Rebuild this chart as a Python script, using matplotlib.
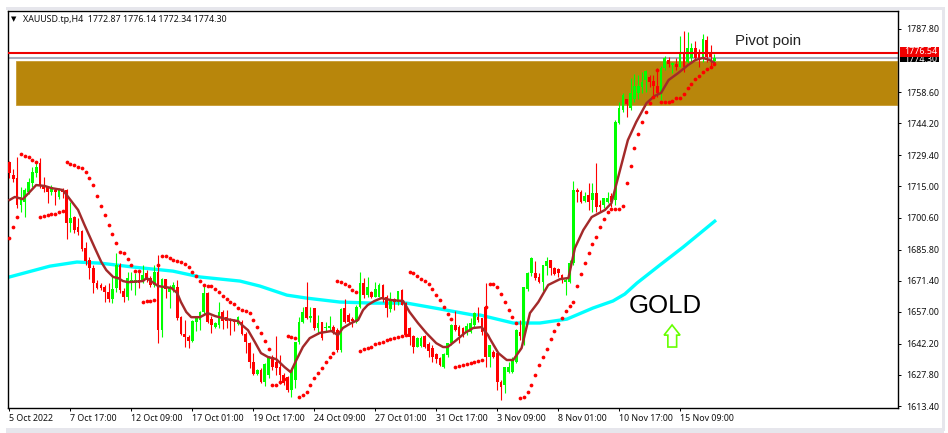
import numpy as np
import matplotlib
matplotlib.use('Agg')
import matplotlib.pyplot as plt
from matplotlib.patches import Rectangle, Polygon

# XAUUSD H4 candles
opens = [
    1726.3, 1720.2, 1718.9, 1706.4, 1707.8, 1712.4, 1716.5, 1721.2, 1725.8, 1715.6,
    1714.7, 1712.4, 1713.3, 1710.1, 1713.3, 1713.3, 1698.0, 1700.8, 1696.2, 1694.3,
    1686.5, 1680.9, 1677.2, 1670.3, 1669.4, 1668.4, 1666.1, 1662.9, 1668.0, 1678.6,
    1666.6, 1663.8, 1670.7, 1670.3, 1671.7, 1670.7, 1674.9, 1672.6, 1669.4, 1675.4,
    1648.5, 1672.1, 1666.1, 1667.5, 1668.4, 1654.5, 1646.7, 1645.3, 1643.5, 1652.2,
    1653.2, 1656.9, 1665.7, 1653.6, 1649.9, 1650.9, 1656.9, 1654.5, 1653.6, 1653.2,
    1651.3, 1652.2, 1646.7, 1642.5, 1633.7, 1628.2, 1630.0, 1624.5, 1627.7, 1636.1,
    1633.7, 1631.4, 1627.7, 1626.8, 1620.8, 1625.4, 1643.0, 1652.2, 1659.2, 1654.1,
    1658.7, 1649.5, 1652.2, 1649.5, 1649.5, 1649.9, 1648.5, 1639.3, 1658.7, 1655.5,
    1653.6, 1652.2, 1659.2, 1670.3, 1664.7, 1666.1, 1663.8, 1663.8, 1669.4, 1663.8,
    1658.3, 1662.9, 1661.5, 1667.1, 1661.0, 1649.5, 1645.8, 1640.7, 1641.1, 1645.8,
    1642.1, 1640.2, 1637.4, 1635.6, 1631.4, 1637.0, 1642.5, 1650.9, 1649.9, 1649.5,
    1647.2, 1647.6, 1650.9, 1654.5, 1654.1, 1659.2, 1636.1, 1638.4, 1637.9, 1624.5,
    1623.1, 1629.1, 1629.1, 1633.7, 1647.6, 1642.5, 1667.5, 1674.9, 1674.9, 1673.1,
    1670.7, 1678.1, 1680.9, 1677.2, 1676.8, 1674.0, 1670.7, 1670.7, 1679.5, 1713.3,
    1712.4, 1708.2, 1711.0, 1708.7, 1711.9, 1706.4, 1706.4, 1707.8, 1710.5, 1708.7,
    1744.3, 1750.3, 1755.4, 1751.2, 1755.4, 1758.2, 1761.0, 1764.2, 1765.6, 1763.7,
    1761.4, 1758.2, 1769.7, 1773.4, 1771.1, 1771.6, 1770.2, 1777.1, 1772.5, 1774.4,
    1779.0, 1776.7, 1774.4, 1782.7, 1776.7, 1772.87,
]
highs = [
    1726.7, 1723.0, 1728.6, 1714.7, 1714.2, 1718.9, 1723.9, 1725.8, 1728.1, 1719.3,
    1715.2, 1715.6, 1714.2, 1714.2, 1714.2, 1713.8, 1707.8, 1701.3, 1700.4, 1694.8,
    1689.3, 1682.3, 1678.6, 1671.7, 1670.3, 1669.4, 1670.3, 1673.1, 1684.2, 1679.5,
    1668.0, 1675.4, 1675.4, 1674.9, 1676.3, 1678.6, 1676.3, 1673.5, 1678.6, 1683.2,
    1672.6, 1672.1, 1669.4, 1670.7, 1671.7, 1655.0, 1653.2, 1646.2, 1653.2, 1654.5,
    1657.3, 1668.9, 1666.1, 1655.0, 1652.2, 1661.5, 1657.8, 1657.8, 1654.1, 1653.6,
    1655.0, 1653.2, 1647.6, 1643.0, 1637.9, 1630.5, 1631.0, 1633.3, 1636.5, 1637.0,
    1645.8, 1637.0, 1628.6, 1627.2, 1631.0, 1643.0, 1654.5, 1659.2, 1670.7, 1659.2,
    1658.7, 1655.5, 1652.2, 1652.2, 1655.0, 1650.9, 1649.5, 1658.7, 1662.9, 1656.4,
    1654.5, 1660.1, 1675.4, 1672.6, 1673.1, 1666.6, 1670.7, 1670.3, 1669.8, 1664.7,
    1666.1, 1663.3, 1666.6, 1667.5, 1661.5, 1649.9, 1646.2, 1645.3, 1645.8, 1646.2,
    1643.0, 1641.6, 1637.9, 1636.1, 1637.9, 1642.5, 1651.3, 1657.3, 1650.9, 1649.9,
    1651.8, 1654.1, 1656.9, 1659.2, 1654.1, 1670.3, 1641.6, 1639.3, 1637.9, 1625.4,
    1631.4, 1633.7, 1636.1, 1649.0, 1653.2, 1668.4, 1675.4, 1682.3, 1680.5, 1674.9,
    1678.6, 1682.3, 1680.9, 1677.7, 1677.2, 1674.4, 1672.6, 1680.9, 1717.5, 1714.2,
    1713.3, 1712.4, 1716.5, 1716.5, 1725.8, 1708.7, 1709.6, 1712.4, 1711.9, 1745.7,
    1754.0, 1758.2, 1755.4, 1765.1, 1767.0, 1766.5, 1767.9, 1768.8, 1766.5, 1766.5,
    1769.7, 1770.7, 1775.3, 1774.8, 1772.5, 1774.4, 1784.5, 1786.9, 1786.4, 1781.3,
    1782.2, 1778.5, 1785.5, 1784.5, 1780.4, 1776.14,
]
lows = [
    1718.9, 1717.0, 1705.0, 1703.1, 1700.8, 1711.5, 1714.7, 1719.3, 1714.2, 1712.4,
    1707.3, 1711.0, 1706.4, 1709.1, 1709.6, 1690.6, 1693.9, 1693.4, 1692.5, 1685.1,
    1678.6, 1672.1, 1665.7, 1667.5, 1667.1, 1661.5, 1661.5, 1661.0, 1666.1, 1665.7,
    1661.5, 1662.4, 1667.1, 1664.7, 1668.0, 1670.3, 1670.7, 1668.4, 1668.4, 1642.5,
    1645.3, 1663.3, 1658.7, 1666.1, 1653.2, 1646.2, 1640.7, 1640.2, 1643.0, 1648.1,
    1648.5, 1655.5, 1651.8, 1647.2, 1649.5, 1649.5, 1649.0, 1649.5, 1646.2, 1648.1,
    1650.9, 1646.2, 1637.9, 1631.0, 1627.7, 1627.7, 1624.0, 1622.6, 1626.3, 1630.0,
    1627.7, 1623.6, 1623.1, 1619.9, 1617.6, 1621.7, 1642.1, 1651.8, 1653.6, 1652.2,
    1648.5, 1646.7, 1643.9, 1647.6, 1648.5, 1646.7, 1638.4, 1638.4, 1651.8, 1651.8,
    1649.9, 1651.8, 1658.7, 1663.3, 1663.8, 1663.3, 1663.8, 1663.8, 1661.5, 1654.5,
    1656.9, 1657.8, 1660.1, 1660.1, 1645.8, 1641.6, 1637.9, 1640.7, 1640.7, 1640.2,
    1636.1, 1633.7, 1633.3, 1631.9, 1631.0, 1636.1, 1641.6, 1648.1, 1642.5, 1645.3,
    1646.2, 1647.2, 1649.9, 1652.2, 1646.2, 1631.4, 1631.4, 1635.6, 1620.8, 1616.2,
    1619.4, 1628.6, 1628.6, 1633.3, 1643.9, 1641.6, 1666.6, 1673.5, 1671.7, 1670.3,
    1666.6, 1674.0, 1674.0, 1674.0, 1673.1, 1670.3, 1664.7, 1670.3, 1678.6, 1707.8,
    1707.3, 1707.8, 1704.1, 1703.1, 1703.1, 1703.1, 1705.0, 1707.3, 1705.4, 1706.4,
    1743.8, 1749.4, 1747.1, 1750.3, 1754.0, 1755.4, 1758.2, 1758.6, 1761.0, 1757.2,
    1756.3, 1754.9, 1768.8, 1770.2, 1767.4, 1768.8, 1770.2, 1767.9, 1772.1, 1772.1,
    1773.4, 1770.2, 1772.5, 1772.5, 1769.7, 1772.34,
]
closes = [
    1721.2, 1718.4, 1706.4, 1710.1, 1713.3, 1717.0, 1721.6, 1723.9, 1715.6, 1713.8,
    1712.4, 1714.7, 1712.4, 1713.8, 1712.4, 1698.0, 1700.4, 1694.8, 1693.9, 1686.0,
    1680.5, 1677.2, 1670.3, 1668.0, 1668.0, 1666.1, 1662.9, 1667.5, 1678.6, 1667.1,
    1663.8, 1672.6, 1671.7, 1671.7, 1670.3, 1674.0, 1671.7, 1669.4, 1675.4, 1648.5,
    1672.1, 1667.5, 1668.4, 1669.4, 1654.1, 1646.7, 1645.3, 1643.5, 1652.7, 1654.1,
    1656.9, 1665.7, 1652.2, 1650.9, 1651.8, 1656.9, 1652.7, 1652.7, 1652.7, 1652.2,
    1654.5, 1646.7, 1643.0, 1633.7, 1628.2, 1630.0, 1624.5, 1632.8, 1636.1, 1631.4,
    1631.0, 1627.7, 1624.0, 1620.8, 1630.0, 1643.0, 1652.2, 1656.9, 1654.1, 1655.0,
    1649.5, 1651.8, 1644.8, 1649.9, 1650.4, 1647.6, 1639.3, 1658.3, 1652.2, 1652.2,
    1652.7, 1659.2, 1670.3, 1664.7, 1668.4, 1663.8, 1667.5, 1669.4, 1663.3, 1658.7,
    1662.4, 1661.5, 1666.6, 1660.1, 1646.2, 1645.3, 1640.7, 1644.8, 1644.8, 1640.7,
    1638.8, 1636.1, 1635.1, 1632.3, 1637.4, 1642.5, 1650.9, 1648.5, 1645.8, 1645.8,
    1650.4, 1651.8, 1656.4, 1653.2, 1647.6, 1636.1, 1641.6, 1636.1, 1624.5, 1622.2,
    1631.4, 1631.4, 1634.7, 1648.5, 1645.8, 1668.4, 1674.9, 1681.8, 1672.6, 1670.7,
    1678.6, 1680.5, 1677.2, 1674.4, 1674.9, 1672.6, 1671.7, 1679.5, 1713.3, 1712.4,
    1707.8, 1710.5, 1707.8, 1711.9, 1705.4, 1705.4, 1709.6, 1709.6, 1707.8, 1744.8,
    1751.2, 1757.2, 1753.1, 1758.2, 1761.4, 1761.4, 1763.3, 1768.4, 1763.3, 1761.4,
    1758.2, 1769.7, 1774.4, 1771.6, 1772.1, 1770.2, 1777.1, 1770.2, 1779.0, 1779.0,
    1774.4, 1774.4, 1783.2, 1774.8, 1774.8, 1774.30,
]

# parabolic SAR, one dot per bar
sar = [
    1691.1, 1696.2, 1700.8, 1729.9, 1729.0, 1728.6, 1727.2, 1726.3, 1700.8, 1701.3,
    1701.7, 1702.2, 1702.4, 1703.1, 1703.6, 1726.3, 1725.3, 1724.9, 1723.9, 1723.5,
    1721.6, 1718.9, 1715.6, 1710.5, 1705.9, 1701.7, 1697.1, 1692.9, 1688.8, 1684.6,
    1684.2, 1681.4, 1678.6, 1675.8, 1675.8, 1661.5, 1662.0, 1662.2, 1662.4, 1678.6,
    1682.8, 1682.8, 1681.8, 1680.9, 1680.5, 1680.0, 1679.1, 1677.7, 1675.4, 1673.5,
    1671.2, 1669.4, 1668.9, 1668.9, 1667.5, 1666.1, 1664.3, 1662.9, 1661.5, 1660.6,
    1658.7, 1657.8, 1657.3, 1656.4, 1653.2, 1649.9, 1647.2, 1643.5, 1639.8, 1623.1,
    1623.1, 1624.5, 1625.9, 1645.8, 1645.5, 1644.8, 1617.6, 1618.5, 1619.9, 1623.1,
    1626.3, 1628.6, 1631.0, 1633.7, 1636.1, 1637.9, 1671.2, 1670.7, 1669.8, 1668.9,
    1667.1, 1666.1, 1638.8, 1639.8, 1640.2, 1640.7, 1642.1, 1642.5, 1643.0, 1643.9,
    1644.4, 1644.8, 1645.3, 1645.8, 1646.2, 1675.4, 1674.9, 1673.5, 1672.1, 1671.2,
    1669.8, 1667.5, 1664.7, 1662.4, 1659.2, 1655.9, 1653.6, 1631.4, 1631.9, 1632.3,
    1632.8, 1633.3, 1633.7, 1634.2, 1634.7, 1659.2, 1669.8, 1669.8, 1668.4, 1665.2,
    1661.5, 1657.8, 1654.5, 1651.8, 1617.1, 1617.6, 1619.9, 1623.1, 1627.7, 1632.3,
    1636.1, 1639.8, 1644.4, 1648.1, 1651.3, 1654.1, 1657.3, 1659.6, 1661.5, 1668.9,
    1674.4, 1679.5, 1684.2, 1688.3, 1691.6, 1696.2, 1699.9, 1703.1, 1704.5, 1704.5,
    1704.5, 1705.9, 1716.5, 1724.4, 1732.7, 1739.2, 1744.8, 1749.4, 1753.6, 1756.3,
    1768.8, 1754.0, 1754.0, 1754.0, 1754.5, 1755.9, 1755.9, 1757.7, 1760.5, 1762.3,
    1764.7, 1766.0, 1767.9, 1769.3, 1770.2, 1771.6,
]

# fast moving average (brown)
ma_bars = [
    0, 1.4, 3.5, 5.3, 7, 9.2, 11, 14, 15.4, 18, 19.7, 22.4, 24.1, 25.4, 27.2, 28.5, 29.8, 31.1,
    35, 36, 39, 42.5, 44, 45, 46.4, 47.7, 50, 52, 54, 57, 60, 61, 62.6, 64.4, 66, 67.8, 70,
    72.2, 73.8, 75.3, 77, 78.8, 81.4, 84.5, 86.2, 87.5, 89.7, 91.5, 92.8, 94, 95.8, 97.6,
    100.2, 103.3, 105, 107.2, 109.4, 112, 113.8, 115, 117.3, 119.5, 121.7, 123.9, 125.6, 126,
    128.3, 130.5, 132.2, 134.4, 136.6, 138.8, 141.4, 144.5, 146.7, 148.4, 150.6, 152.8, 156.3,
    158, 159.7, 162.3, 164.5, 167.2, 169.3, 171, 173, 175.5, 178.1, 180, 182, 183.8, 185,
]
ma_vals = [
    1708.7, 1710.1, 1709.1, 1712.4, 1715.6, 1715.2, 1714.2, 1713.3, 1710.1, 1704.1, 1697.1,
    1686.5, 1680.0, 1676.3, 1673.1, 1672.6, 1671.2, 1670.7, 1671.2, 1672.6, 1668.9, 1668.0,
    1665.7, 1661.5, 1656.9, 1654.5, 1654.5, 1656.4, 1655.0, 1653.6, 1652.7, 1650.9, 1648.5,
    1643.0, 1637.9, 1636.1, 1635.1, 1631.4, 1629.1, 1634.7, 1640.7, 1644.8, 1647.2, 1648.1,
    1646.2, 1649.5, 1651.8, 1653.2, 1657.8, 1660.1, 1662.0, 1663.3, 1662.4, 1662.0, 1656.9,
    1651.8, 1647.2, 1642.5, 1640.7, 1640.7, 1643.9, 1647.2, 1649.5, 1649.9, 1646.2, 1644.8,
    1637.9, 1634.7, 1634.7, 1640.2, 1656.4, 1661.5, 1669.4, 1672.1, 1672.6, 1686.5, 1694.8,
    1700.8, 1704.1, 1707.3, 1718.9, 1736.4, 1744.8, 1753.5, 1756.8, 1758.2, 1764.2, 1767.4,
    1771.1, 1773.4, 1774.4, 1773.4, 1772.1,
]

# slow moving average (cyan)
slow_bars = [0, 10.6, 17.7, 23.8, 32.4, 42.9, 50, 60.5, 65.7, 72.8, 78.1, 86.7, 95.4, 104.3,
             113, 121.7, 123.5, 132.2, 139.2, 146.3, 153.1, 158.4, 161.5, 164.7, 170.7, 176.8, 185.1]
slow_vals = [1673.1, 1678.1, 1680.0, 1679.5, 1677.7, 1675.8, 1673.1, 1671.2, 1668.9, 1664.7,
             1663.3, 1661.5, 1661.0, 1661.0, 1658.3, 1655.5, 1655.5, 1651.8, 1651.8, 1653.6,
             1658.7, 1662.0, 1665.2, 1670.3, 1678.6, 1686.9, 1698.9]

price_ticks = [1787.80, 1758.60, 1744.20, 1729.40, 1715.00, 1700.60, 1685.80,
               1671.40, 1657.00, 1642.20, 1627.80, 1613.40]
date_bars = [0, 16, 32, 48, 64, 80, 96, 112, 128, 144, 160, 176]
date_labels = ['5 Oct 2022', '7 Oct 17:00', '12 Oct 09:00', '17 Oct 01:00', '19 Oct 17:00',
               '24 Oct 09:00', '27 Oct 01:00', '31 Oct 17:00', '3 Nov 09:00', '8 Nov 01:00',
               '10 Nov 17:00', '15 Nov 09:00']
pivot_price = 1776.54
last_price = 1774.30
zone_low, zone_high = 1752.6, 1773.0

W, H = 948, 433
FONT = 'Noto Sans'
LABEL_SIZE = 6.4


def fx(x):
    return x / W


def fy(y):
    return 1 - y / H


def main():
    o = np.array(opens)
    h = np.array(highs)
    l = np.array(lows)
    c = np.array(closes)
    bars = np.arange(len(o))

    fig = plt.figure(figsize=(W / 100, H / 100), dpi=100, facecolor='white')

    # light window edges around the chart
    for rect in [(6, 7, 938, 2.5), (942, 7, 2.5, 424), (6, 428, 938, 5)]:
        fig.add_artist(Rectangle((fx(rect[0]), fy(rect[1] + rect[3])), fx(rect[2]), rect[3] / H,
                                 transform=fig.transFigure, fc='#e6e6ec', ec='none'))

    ax = fig.add_axes([fx(8.0), fy(408), fx(890), 397 / H])
    ax.set_xlim(-0.39, 233.2)
    ax.set_ylim(1612.5, 1796.1)

    ax.add_patch(Rectangle((1.7, zone_low), 231.2, zone_high - zone_low,
                           fc='#b8860b', ec='#c79a30', lw=0.6, zorder=1))
    ax.axhline(last_price, color='#a9adbd', lw=1.5, zorder=1.5)
    ax.axhline(pivot_price, color='#ee0000', lw=1.5, zorder=5)

    ax.plot(slow_bars, slow_vals, color='#00ffff', lw=2.4, zorder=2)

    up = c >= o
    for mask, col in [(up, '#00ff00'), (~up, '#ff0000')]:
        ax.vlines(bars[mask], l[mask], h[mask], color=col, lw=0.8, zorder=3)
        ax.bar(bars[mask], np.abs(c - o)[mask], bottom=np.minimum(o, c)[mask],
               width=0.72, color=col, lw=0, zorder=3)

    ax.plot(ma_bars, ma_vals, color='#a32a2a', lw=1.75, zorder=4)
    ax.plot(bars, sar, ls='none', marker='o', ms=2.7, mfc='#ff0000', mec='#ff0000',
            mew=0, zorder=6)

    # green arrow under the GOLD label
    arrow_x = [173.9, 176.0, 175.1, 175.1, 172.8, 172.8, 171.8]
    arrow_y = [1650.9, 1646.2, 1646.2, 1640.7, 1640.7, 1646.2, 1646.2]
    ax.add_patch(Polygon(np.column_stack([arrow_x, arrow_y]), closed=True, fc='white',
                         ec='#66ff00', lw=1.2, zorder=6))

    ax.yaxis.tick_right()
    ax.set_yticks(price_ticks)
    ax.set_yticklabels(['%.2f' % p for p in price_ticks], fontsize=LABEL_SIZE, family=FONT, color='#111111')
    ax.set_xticks(date_bars)
    ax.set_xticklabels(date_labels, fontsize=LABEL_SIZE, family=FONT, color='#111111', ha='left')
    ax.tick_params(axis='y', length=2.5, width=0.7, pad=3.5)
    ax.tick_params(axis='x', length=2, width=0.7, pad=2)
    for s in ax.spines.values():
        s.set_linewidth(1.0)
        s.set_color('black')

    # price boxes in the right margin
    fig.add_artist(Rectangle((fx(900), fy(62)), fx(39), 6 / H, transform=fig.transFigure,
                             fc='black', ec='none', zorder=8))
    fig.text(fx(904), fy(59.5), '%.2f' % last_price, color='white', fontsize=LABEL_SIZE, family=FONT,
             va='center', zorder=9)
    fig.add_artist(Rectangle((fx(900), fy(56.5)), fx(39), 10 / H, transform=fig.transFigure,
                             fc='#f00000', ec='none', zorder=10))
    fig.text(fx(904), fy(51.5), '%.2f' % pivot_price, color='white', fontsize=LABEL_SIZE, family=FONT,
             va='center', zorder=11)

    fig.text(fx(11), fy(19.5), '\u25bc', fontsize=5, family='DejaVu Sans', color='black', va='center')
    fig.text(fx(23), fy(19), 'XAUUSD.tp,H4  1772.87 1776.14 1772.34 1774.30',
             fontsize=LABEL_SIZE, family=FONT, color='#111111', va='center')
    fig.text(fx(735), fy(41), 'Pivot poin', fontsize=10.8, family='Liberation Sans',
             color='#222222', va='center')
    fig.text(fx(629), fy(306), 'GOLD', fontsize=18.6, family='Liberation Sans',
             color='black', va='center')

    fig.savefig('out.png', dpi=100, facecolor='white')


if __name__ == "__main__":
    main()
